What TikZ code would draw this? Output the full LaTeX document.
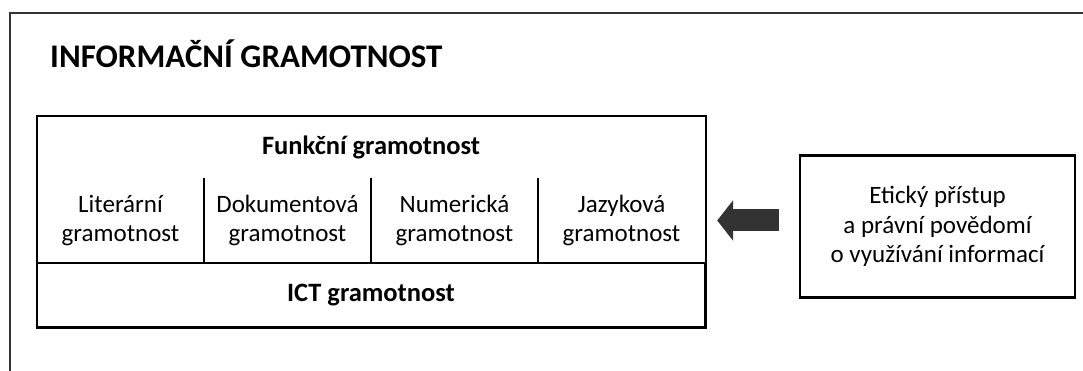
\documentclass[tikz,border=0pt]{standalone}
\usepackage{fontspec}
\setmainfont{Carlito}
\usetikzlibrary{arrows.meta}

\begin{document}
\begin{tikzpicture}[x=1pt, y=-1pt,
	frame/.style={draw, line width=2.4pt},
	cell/.style={minimum width=167pt, minimum height=85pt, inner sep=0pt, align=center, font=\fontsize{25}{29.5}\selectfont},
	wide/.style={minimum width=668pt, inner sep=0pt, font=\bfseries\fontsize{26.5}{30}\selectfont}]
	\useasboundingbox (0, 0) rectangle (1083, 371);
	\draw [line width=1.5pt, black!80] (10, 371) -- (10, 13) -- (1083, 13);
	\node [anchor=base west, inner sep=0pt, font=\bfseries\fontsize{33}{38}\selectfont] (TT) at (50, 68) {INFORMAČNÍ GRAMOTNOST};
	\node [wide, minimum height=62pt] (FG) at (371, 147) {Funkční gramotnost};
	\node [cell] (LG) at (120.5, 220.5) {Literární\\gramotnost};
	\node [cell] (DG) at (287.5, 220.5) {Dokumentová\\gramotnost};
	\node [cell] (NG) at (454.5, 220.5) {Numerická\\gramotnost};
	\node [cell] (JG) at (621.5, 220.5) {Jazyková\\gramotnost};
	\node [wide, frame, minimum height=64pt] (IG) at (371, 295) {ICT gramotnost};
	\node [frame, minimum width=275pt, minimum height=142pt, inner sep=0pt, align=center, font=\fontsize{25}{29.5}\selectfont] (EP) at (937.5, 226.5) {Etický přístup\\a právní povědomí\\o využívání informací};
	\draw [frame] (FG.north west) rectangle (IG.south east);
	\foreach \c in {LG, DG, NG}
		\draw [frame] (\c.north east) -- (\c.south east);
	\coordinate (A) at (EP.west |- JG.east);
	\draw [line width=22pt, black!80, -{Triangle[length=16pt, width=40pt]}] ([xshift=-20pt]A) -- ([xshift=12pt]JG.east);
\end{tikzpicture}
\end{document}
